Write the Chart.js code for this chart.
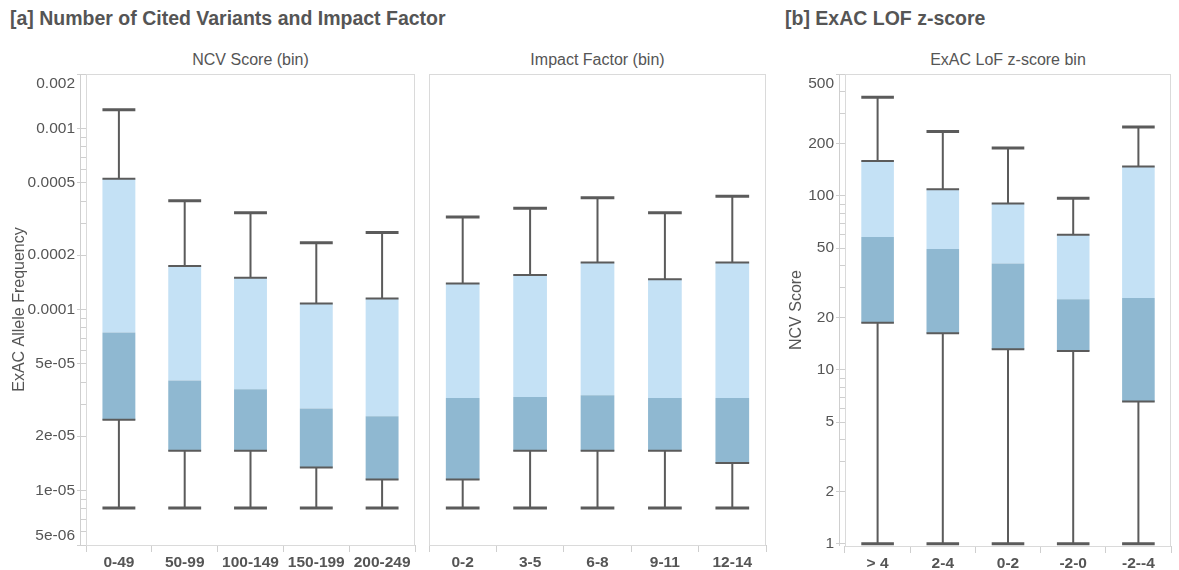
<!DOCTYPE html>
<html>
<head>
<meta charset="utf-8">
<title>Cited variants, impact factor and ExAC LOF z-score</title>
<script src="https://cdn.jsdelivr.net/npm/chart.js@4.4.1/dist/chart.umd.min.js"></script>
<style>
    body { margin: 0; background: #fff; font-family: "Liberation Sans", Arial, sans-serif; color: #555; }
    #page { position: relative; width: 1179px; height: 570px; overflow: hidden; }
    .panel-title { position: absolute; top: 7px; font-size: 19.5px; line-height: 22px; font-weight: bold; white-space: nowrap; }
    .sub-title { position: absolute; top: 51px; font-size: 16px; line-height: 18px; text-align: center; white-space: nowrap; }
    canvas { position: absolute; top: 0; }
</style>
</head>
<body>
<div id="page">
    <div class="panel-title" style="left:10px">[a] Number of Cited Variants and Impact Factor</div>
    <div class="panel-title" style="left:785px">[b] ExAC LOF z-score</div>
    <div class="sub-title" style="left:86px;width:329px">NCV Score (bin)</div>
    <div class="sub-title" style="left:429px;width:337px">Impact Factor (bin)</div>
    <div class="sub-title" style="left:845px;width:326px">ExAC LoF z-score bin</div>
    <canvas id="ncvChart" width="420" height="570" style="left:0"></canvas>
    <canvas id="impactChart" width="350" height="570" style="left:420px"></canvas>
    <canvas id="lofChart" width="409" height="570" style="left:770px"></canvas>
</div>
<script>
// Panel [a], left: allele frequency by NCV score bin
const ncvBins = ['0-49', '50-99', '100-149', '150-199', '200-249'];
const ncvMin = [8e-6, 8e-6, 8e-6, 8e-6, 8e-6];
const ncvQ1 = [2.46e-5, 1.66e-5, 1.66e-5, 1.34e-5, 1.15e-5];
const ncvMedian = [7.46e-5, 4.05e-5, 3.63e-5, 2.84e-5, 2.57e-5];
const ncvQ3 = [5.27e-4, 1.74e-4, 1.50e-4, 1.08e-4, 1.15e-4];
const ncvMax = [1.27e-3, 3.99e-4, 3.42e-4, 2.34e-4, 2.66e-4];

// Panel [a], right: allele frequency by impact factor bin
const impactBins = ['0-2', '3-5', '6-8', '9-11', '12-14'];
const impactMin = [8e-6, 8e-6, 8e-6, 8e-6, 8e-6];
const impactQ1 = [1.15e-5, 1.66e-5, 1.66e-5, 1.66e-5, 1.42e-5];
const impactMedian = [3.24e-5, 3.29e-5, 3.36e-5, 3.24e-5, 3.24e-5];
const impactQ3 = [1.39e-4, 1.55e-4, 1.82e-4, 1.47e-4, 1.82e-4];
const impactMax = [3.24e-4, 3.63e-4, 4.14e-4, 3.42e-4, 4.23e-4];

// Panel [b]: NCV score by ExAC LoF z-score bin
const lofBins = ['> 4', '2-4', '0-2', '-2-0', '-2--4'];
const lofMin = [1, 1, 1, 1, 1];
const lofQ1 = [18.6, 16.2, 13.1, 12.8, 6.57];
const lofMedian = [57.8, 49.3, 40.7, 25.4, 25.8];
const lofQ3 = [158, 109, 90, 59.6, 147];
const lofMax = [368, 234, 188, 96.5, 248];

// Tick labels
const freqTicks = [5e-6, 1e-5, 2e-5, 5e-5, 1e-4, 2e-4, 5e-4, 1e-3, 2e-3];
const freqTickLabels = ['5e-06', '1e-05', '2e-05', '5e-05', '0.0001', '0.0002', '0.0005', '0.001', '0.002'];
const scoreTicks = [1, 2, 5, 10, 20, 50, 100, 200, 500];
const scoreTickLabels = ['1', '2', '5', '10', '20', '50', '100', '200', '500'];

const FONT = '"Liberation Sans", Arial, sans-serif';
const TEXT_COLOR = '#555';
const LIGHT_BLUE = '#c4e1f5';
const DARK_BLUE = '#8fb8d1';
const WHISKER_COLOR = '#5b5b5b';
const FRAME_COLOR = '#dadada';
const TICK_COLOR = '#cfcfcf';

/**
 * Draws the plot frame, the offset y axis line with minor ticks,
 * and the whiskers / box edges of each box plot
 */
const boxWhiskers = {
    id: 'boxWhiskers',
    beforeDatasetsDraw(chart, args, opts) {
        const ctx = chart.ctx;
        const area = chart.chartArea;
        const yScale = chart.scales.y;
        ctx.save();
        ctx.strokeStyle = FRAME_COLOR;
        ctx.lineWidth = 1;
        ctx.strokeRect(area.left + 0.5, area.top + 0.5, area.right - area.left - 1, area.bottom - area.top);

        if (opts.axisLine) {
            const ax = area.left - 5.5;
            ctx.strokeStyle = TICK_COLOR;
            ctx.beginPath();
            ctx.moveTo(ax, area.top);
            ctx.lineTo(ax, area.bottom);
            // minor ticks at every k * 10^n that has no label
            const lo = Math.floor(Math.log10(yScale.min));
            const hi = Math.ceil(Math.log10(yScale.max));
            for (let d = lo; d <= hi; d++) {
                for (let k = 1; k <= 9; k++) {
                    const v = k * Math.pow(10, d);
                    if (v < yScale.min * 0.999 || v > yScale.max * 1.001) continue;
                    if (opts.major.some(m => Math.abs(m - v) / m < 1e-6)) continue;
                    const py = Math.round(yScale.getPixelForValue(v)) + 0.5;
                    ctx.moveTo(ax, py);
                    ctx.lineTo(area.left, py);
                }
            }
            ctx.stroke();
        }
        ctx.restore();
    },
    afterDatasetsDraw(chart, args, opts) {
        const ctx = chart.ctx;
        const yScale = chart.scales.y;
        const meta = chart.getDatasetMeta(0);
        ctx.save();
        ctx.strokeStyle = WHISKER_COLOR;
        ctx.lineCap = 'butt';
        meta.data.forEach((bar, i) => {
            const x = bar.x;
            const half = bar.width / 2;
            const yMin = yScale.getPixelForValue(opts.min[i]);
            const yQ1 = yScale.getPixelForValue(opts.q1[i]);
            const yQ3 = yScale.getPixelForValue(opts.q3[i]);
            const yMax = yScale.getPixelForValue(opts.max[i]);

            ctx.lineWidth = 2;
            ctx.beginPath();
            ctx.moveTo(x, yQ3); ctx.lineTo(x, yMax);
            ctx.moveTo(x, yQ1); ctx.lineTo(x, yMin);
            ctx.moveTo(x - half, yQ3); ctx.lineTo(x + half, yQ3);
            ctx.moveTo(x - half, yQ1); ctx.lineTo(x + half, yQ1);
            ctx.stroke();

            ctx.lineWidth = 3;
            ctx.beginPath();
            ctx.moveTo(x - half, yMax); ctx.lineTo(x + half, yMax);
            ctx.moveTo(x - half, yMin); ctx.lineTo(x + half, yMin);
            ctx.stroke();
        });
        ctx.restore();
    }
};

/**
 * Build one box plot chart from the quartile arrays
 */
function makeBoxChart(canvasId, cfg) {
    const lowerBoxes = cfg.labels.map((_, i) => [cfg.q1[i], cfg.median[i]]);
    const upperBoxes = cfg.labels.map((_, i) => [cfg.median[i], cfg.q3[i]]);
    const lastTick = cfg.tickValues.length - 1;

    return new Chart(document.getElementById(canvasId), {
        type: 'bar',
        data: {
            labels: cfg.labels,
            datasets: [
                { data: lowerBoxes, backgroundColor: DARK_BLUE, borderWidth: 0, grouped: false },
                { data: upperBoxes, backgroundColor: LIGHT_BLUE, borderWidth: 0, grouped: false }
            ]
        },
        options: {
            responsive: false,
            animation: false,
            events: [],
            categoryPercentage: 1,
            barPercentage: 0.5,
            layout: { padding: cfg.padding },
            scales: {
                x: {
                    afterFit: s => { s.height = cfg.xHeight; },
                    ticks: { color: TEXT_COLOR, font: { family: FONT, size: 15.5, weight: 'bold' }, padding: 1, maxRotation: 0, autoSkip: false },
                    grid: { offset: true, drawOnChartArea: false, tickLength: 7, color: TICK_COLOR },
                    border: { display: false }
                },
                y: {
                    type: 'logarithmic',
                    display: cfg.showY,
                    min: cfg.yMin,
                    max: cfg.yMax,
                    afterBuildTicks: s => { s.ticks = cfg.tickValues.map(v => ({ value: v })); },
                    afterFit: s => { s.width = cfg.yWidth; },
                    ticks: {
                        autoSkip: false,
                        color: TEXT_COLOR,
                        font: { family: FONT, size: 15.5 },
                        padding: 2,
                        // edge labels are nudged inside the axis with an empty line
                        callback: (value, index) => {
                            const text = cfg.tickLabels[index];
                            if (index === lastTick) return ['', text];
                            if (index === 0 && cfg.nudgeBottom) return [text, ''];
                            return text;
                        }
                    },
                    grid: { drawOnChartArea: false, tickLength: 9, color: TICK_COLOR },
                    border: { display: false },
                    title: {
                        display: !!cfg.yTitle,
                        text: cfg.yTitle,
                        color: TEXT_COLOR,
                        font: { family: FONT, size: 16 },
                        padding: { top: cfg.titlePad, bottom: 0 }
                    }
                }
            },
            plugins: {
                legend: { display: false },
                tooltip: { enabled: false },
                boxWhiskers: {
                    min: cfg.min, q1: cfg.q1, q3: cfg.q3, max: cfg.max,
                    axisLine: cfg.showY, major: cfg.tickValues
                }
            }
        },
        plugins: [boxWhiskers]
    });
}

makeBoxChart('ncvChart', {
    labels: ncvBins, min: ncvMin, q1: ncvQ1, median: ncvMedian, q3: ncvQ3, max: ncvMax,
    yMin: 5e-6, yMax: 2e-3, tickValues: freqTicks, tickLabels: freqTickLabels, nudgeBottom: true,
    showY: true, yWidth: 86, yTitle: 'ExAC Allele Frequency', titlePad: 10,
    xHeight: 25, padding: { top: 74, right: 5, bottom: 0, left: 0 }
});

makeBoxChart('impactChart', {
    labels: impactBins, min: impactMin, q1: impactQ1, median: impactMedian, q3: impactQ3, max: impactMax,
    yMin: 5e-6, yMax: 2e-3, tickValues: freqTicks, tickLabels: freqTickLabels, nudgeBottom: true,
    showY: false, yWidth: 0, yTitle: '', titlePad: 0,
    xHeight: 25, padding: { top: 74, right: 4, bottom: 0, left: 9 }
});

makeBoxChart('lofChart', {
    labels: lofBins, min: lofMin, q1: lofQ1, median: lofMedian, q3: lofQ3, max: lofMax,
    yMin: 0.97, yMax: 500, tickValues: scoreTicks, tickLabels: scoreTickLabels, nudgeBottom: false,
    showY: true, yWidth: 75, yTitle: 'NCV Score', titlePad: 17,
    xHeight: 24, padding: { top: 74, right: 8, bottom: 0, left: 0 }
});
</script>
</body>
</html>
